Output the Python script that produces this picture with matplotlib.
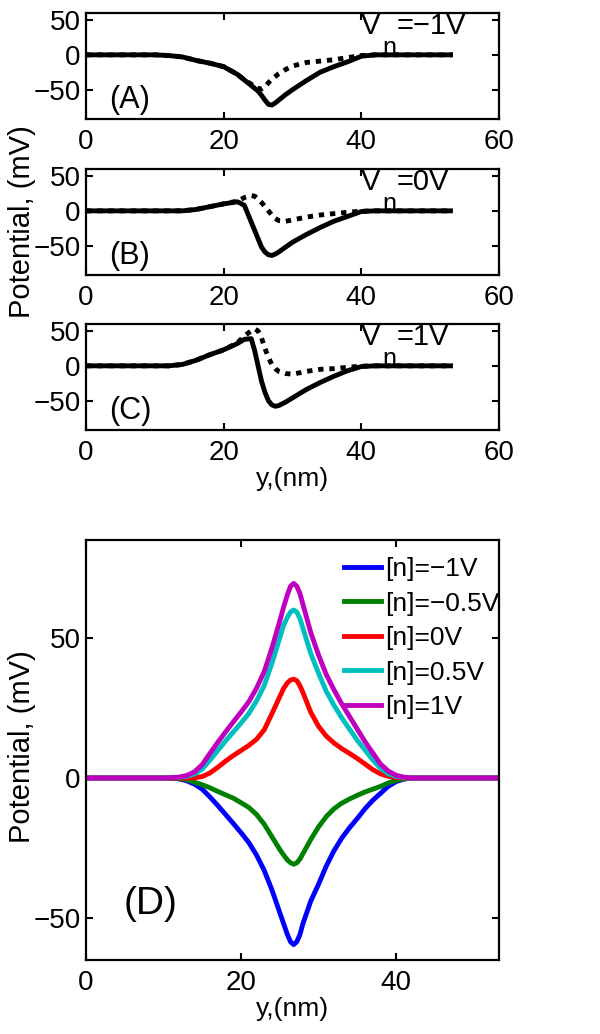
# =============================================================================
# plot.py
# Potential profiles: three stacked panels (A-C) for V_n = -1, 0, 1 V and
# one large panel (D) with the five curves for [n] = -1 ... 1 V.
# =============================================================================
import numpy as np
import matplotlib.pyplot as plt

plt.rcParams['font.family'] = ['Liberation Sans', 'DejaVu Sans']

# =============================================================================
# Data
# =============================================================================
# x grid (nm) for panels A-C
yTop = [0, 10, 12, 14, 16, 18, 20, 22, 23, 24, 24.5, 25, 25.5, 26, 26.5, 27,
        27.5, 28, 29, 30, 32, 34, 36, 38, 40, 42, 45, 53.3]

solidA = [0, 0, -1, -3, -8, -12, -17, -28, -36, -44, -48, -52, -58, -65, -71,
          -72, -69, -65, -57, -50, -37, -25, -17, -10, -2, 0, 0, 0]
dotA = [0, 0, -1, -3, -8, -12, -17, -28, -36, -42, -46, -48, -49, -46, -40,
        -35, -31, -27, -21, -16, -11, -9, -7, -4, -1, 0, 0, 0]

solidB = [0, 0, 0, 0, 2, 6, 10, 13, 8, -16, -28, -40, -52, -59, -63, -64,
          -62, -59, -52, -45, -34, -24, -15, -8, -1, 0, 0, 0]
dotB = [0, 0, 0, 0, 2, 6, 10, 14, 19, 22, 21, 17, 12, 6, 0, -6, -11, -14,
        -15, -13, -9, -6, -4, -2, -0.5, 0, 0, 0]

solidC = [0, 0, 0, 2, 8, 16, 23, 32, 38, 39, 22, 0, -22, -38, -50, -56, -58,
          -57, -52, -46, -34, -24, -15, -7, -1, 0, 0, 0]
dotC = [0, 0, 0, 2, 8, 16, 23, 33, 43, 50, 53, 50, 40, 25, 12, 2, -4, -8,
        -11, -12, -8, -5, -4, -2, -0.5, 0, 0, 0]

topLabels = ['(A)', '(B)', '(C)']
vnLabels = ['=\u22121V', '=0V', '=1V']

# x grid (nm) for panel D
yD = [0, 10, 12, 13, 14, 15, 16, 17, 18, 19, 20, 21, 22, 23, 24, 25, 25.5, 26,
      26.4, 26.8, 27.2, 27.6, 28, 28.5, 29, 30, 31, 32, 33, 34, 35, 36, 37, 38,
      39, 40, 41, 42, 45, 53.3]

vMinus1 = [0, 0, -0.3, -1, -2.2, -4, -6.8, -9.8, -13, -16.2, -19.5, -23,
           -27.5, -33, -40, -48, -52, -56, -58.5, -59.5, -58.5, -56, -52, -48,
           -44, -38, -31.5, -26, -21.5, -17.8, -14.5, -11, -8, -5.5, -3, -1.3,
           -0.4, 0, 0, 0]
vMinus05 = [0, 0, -0.2, -0.6, -1.5, -2.4, -3.5, -4.8, -6, -7.2, -8.8, -10.5,
            -13, -16.5, -21, -25.5, -27.5, -29.3, -30.3, -30.8, -30.3, -29,
            -27, -24.5, -22, -17.5, -13.8, -11, -9, -7.5, -6.2, -5, -4, -3,
            -1.8, -0.8, -0.3, 0, 0, 0]
v0 = [0, 0, 0, 0, 0.1, 0.5, 1.8, 3.8, 6, 8, 9.8, 11.6, 13.8, 17.2, 23, 29,
      32, 34, 35, 35.3, 34.8, 33, 30.5, 27, 23.5, 18.5, 15, 12.5, 10.5, 8.8, 7,
      5, 3, 1.5, 0.6, 0.2, 0, 0, 0, 0]
v05 = [0, 0, 0.2, 0.6, 1.4, 3.2, 6.4, 9.8, 13.2, 16.4, 19.6, 23, 27.5, 33,
       41, 50, 54.5, 57.5, 59.3, 60, 59.3, 57, 53.5, 49, 44.5, 37.5, 31, 26,
       21.5, 17.5, 13.5, 10, 6.5, 3.5, 1.5, 0.6, 0.2, 0, 0, 0]
v1 = [0, 0, 0.3, 0.9, 2.2, 4.8, 8.8, 12.7, 16.4, 20, 23.5, 27.2, 32, 38, 46.5,
      56, 61, 65.5, 68.5, 69.5, 68.5, 66, 62, 57, 52, 44, 37, 31.5, 26.5, 22,
      17.5, 13, 9, 5, 2.5, 1, 0.3, 0, 0, 0]

dLabels = ['[n]=\u22121V', '[n]=\u22120.5V', '[n]=0V', '[n]=0.5V', '[n]=1V']
dColors = ['#0000ff', '#008000', '#ff0000', '#00bfbf', '#bf00bf']

# =============================================================================
# Functions
# =============================================================================
# styleAxes puts MATLAB-like boxed axes with inward ticks on all four sides.
def styleAxes(ax):
    for s in ax.spines.values():
        s.set_linewidth(1.6)
    ax.tick_params(direction='in', length=5, width=1.5, top=True, right=True,
                   labelsize=20)
    ax.tick_params(axis='x', pad=7)
    ax.tick_params(axis='y', pad=4)


# topPanel draws one of the small panels with the solid and dotted profiles.
def topPanel(fig, rect, solid, dot, tag, vn):
    ax = fig.add_axes(rect)
    ax.plot(yTop, solid, color='k', lw=3.5, solid_capstyle='butt')
    ax.plot(yTop, dot, color='k', lw=3.5, ls=(0, (1.1, 1.2)),
            dash_capstyle='butt')
    ax.set_xlim(0, 60)
    ax.set_ylim(-92, 60)
    ax.set_xticks([0, 20, 40, 60])
    ax.set_yticks([-50, 0, 50])
    styleAxes(ax)
    ax.text(0.055, 0.10, tag, transform=ax.transAxes, fontsize=22)
    ax.text(0.665, 0.80, 'V', transform=ax.transAxes, fontsize=21)
    ax.text(0.752, 0.80, vn, transform=ax.transAxes, fontsize=21)
    ax.text(0.718, 0.60, 'n', transform=ax.transAxes, fontsize=18)
    return ax

# =============================================================================
# Main Script
# =============================================================================
fig = plt.figure(figsize=(6, 10.34), dpi=100)

left, width = 86 / 600, 413 / 600
tops = [13, 169, 324]
solids = [solidA, solidB, solidC]
dots = [dotA, dotB, dotC]
for i in range(3):
    rect = [left, 1 - (tops[i] + 106) / 1034, width, 106 / 1034]
    ax = topPanel(fig, rect, solids[i], dots[i], topLabels[i], vnLabels[i])
ax.set_xlabel('y,(nm)', fontsize=19, labelpad=1)
fig.text(0.037, 0.786, 'Potential, (mV)', rotation=90, fontsize=21,
         ha='center', va='center')

# Panel D
axD = fig.add_axes([left, 1 - 960 / 1034, width, 420 / 1034])
for vals, lab, col in zip([vMinus1, vMinus05, v0, v05, v1], dLabels, dColors):
    axD.plot(yD, vals, color=col, lw=3.5, label=lab)
axD.set_xlim(0, 53.3)
axD.set_ylim(-65, 85)
axD.set_xticks([0, 20, 40])
axD.set_yticks([-50, 0, 50])
styleAxes(axD)
axD.set_xlabel('y,(nm)', fontsize=19, labelpad=1)
fig.text(0.037, 0.278, 'Potential, (mV)', rotation=90, fontsize=21,
         ha='center', va='center')
axD.text(0.09, 0.11, '(D)', transform=axD.transAxes, fontsize=28)
axD.legend(loc='upper left', bbox_to_anchor=(344 / 600, 1 - 557 / 1034),
           bbox_transform=fig.transFigure, frameon=False, fontsize=19,
           handlelength=1.4, handletextpad=0.15, labelspacing=0.4,
           borderpad=0, borderaxespad=0)

fig.savefig('out.png', dpi=100)
